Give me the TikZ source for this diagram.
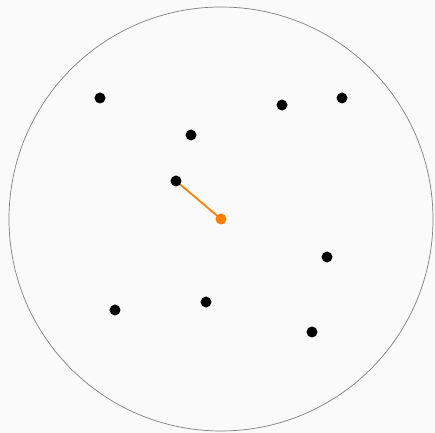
\documentclass[tikz,border=0pt]{standalone}
\usetikzlibrary{backgrounds}
\definecolor{bgray}{HTML}{FAFAFA}
\definecolor{linkorange}{HTML}{FF8000}

\begin{document}
\begin{tikzpicture}[x=0.03cm, y=-0.03cm,
  dot/.style={circle, fill=black, inner sep=0pt, minimum size=0.33cm},
  centre/.style={circle, fill=linkorange, inner sep=0pt, minimum size=0.33cm}]
  \useasboundingbox (0,0) rectangle (435,433);

  % Boundary circle
  \draw[gray, line width=0.6pt] (221,219) circle (212);

  % Points
  \foreach \n/\x/\y in {a/100/98, b/282/105, c/342/98, d/191/135, e/176/181,
                        f/327/257, g/115/310, h/206/302, i/312/332}
    \node[dot] (\n) at (\x,\y) {};

  % Query point
  \node[centre] (q) at (221,219) {};

  % Background and link to nearest neighbour
  \begin{scope}[on background layer]
    \fill[bgray] (0,0) rectangle (435,433);
    \draw[linkorange, line width=1.5pt] (q.center) -- (e.center);
  \end{scope}
\end{tikzpicture}
\end{document}
